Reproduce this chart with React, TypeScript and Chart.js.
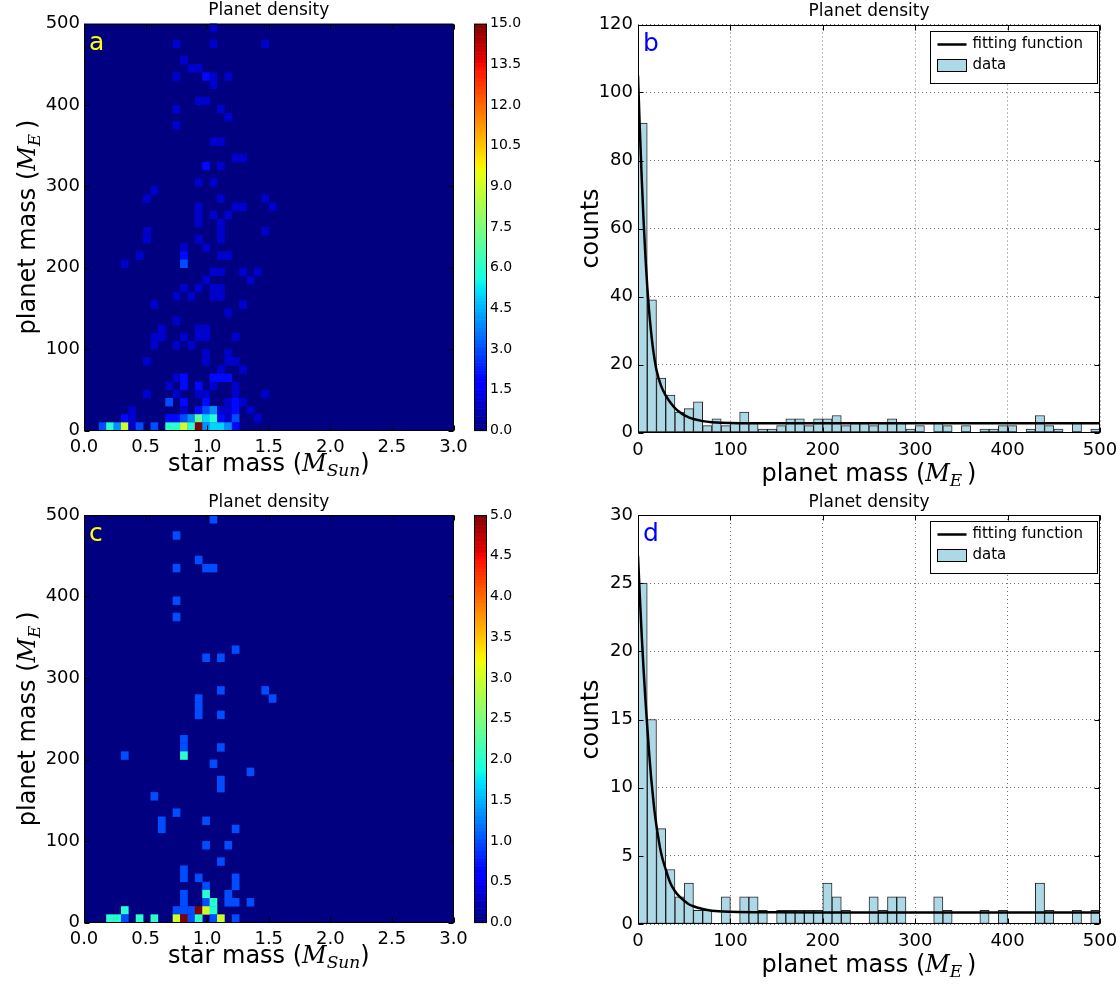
import React, { useEffect, useRef } from "react";
import { Chart, registerables } from "chart.js";

Chart.register(...registerables);

const SANS = '"DejaVu Sans", "Liberation Sans", Arial, sans-serif';
const SERIF = '"DejaVu Serif", "Liberation Serif", serif';

// ---------------- data ----------------
// histogram bins of planet mass (M_E), bin centres
const planetMassBinCenters = [
  5, 15, 25, 35, 45, 55, 65, 75, 85, 95,
  105, 115, 125, 135, 145, 155, 165, 175, 185, 195,
  205, 215, 225, 235, 245, 255, 265, 275, 285, 295,
  305, 315, 325, 335, 345, 355, 365, 375, 385, 395,
  405, 415, 425, 435, 445, 455, 465, 475, 485, 495,
];
// panel b counts
const countsAllStars = [
  91, 39, 16, 11, 6, 7, 9, 2, 4, 2,
  3, 6, 3, 1, 1, 2, 4, 4, 2, 4,
  4, 5, 2, 3, 3, 2, 3, 4, 3, 1,
  2, 0, 3, 2, 0, 2, 0, 1, 1, 2,
  2, 0, 1, 5, 2, 1, 0, 3, 0, 1,
];
// panel d counts
const countsSubset = [
  25, 15, 7, 4, 2, 3, 1, 1, 0, 2,
  0, 2, 2, 1, 0, 1, 1, 1, 1, 1,
  3, 2, 1, 0, 0, 2, 1, 2, 2, 0,
  0, 0, 2, 1, 0, 0, 0, 1, 0, 1,
  0, 0, 0, 3, 1, 0, 0, 1, 0, 1,
];
// fitted curves
const fitMass = [0, 2, 4, 6, 8, 10, 12, 14, 16, 18, 20, 25, 30, 35, 40, 45, 50, 55, 60, 70, 80, 100, 150, 200, 300, 400, 500];
const fitAllStars = [105, 89, 75, 62.5, 52, 43, 35.8, 30, 25.2, 21.4, 18.4, 13.7, 10.9, 8.8, 7.2, 6.0, 5.1, 4.45, 3.95, 3.35, 3.05, 2.8, 2.7, 2.7, 2.7, 2.7, 2.7];
const fitSubset = [27, 24, 21.2, 18.7, 16.5, 14.5, 12.6, 10.9, 9.5, 8.2, 7.2, 5.2, 4.0, 3.0, 2.4, 2.0, 1.7, 1.45, 1.3, 1.1, 0.98, 0.9, 0.86, 0.85, 0.85, 0.85, 0.85];

// 2-D histogram: bin sizes and non-empty cells [star-mass bin, planet-mass bin, count]
const STAR_BIN = 0.06;
const PLANET_BIN = 10;
const cellsAllStars: number[][] = [
  [17, 49, 1],
  [12, 47, 1], [17, 47, 1], [24, 47, 1],
  [13, 45, 1],
  [14, 44, 1], [15, 44, 1],
  [12, 43, 1], [16, 43, 2], [17, 43, 1], [19, 43, 1],
  [17, 42, 1],
  [15, 40, 1], [16, 40, 1],
  [12, 39, 1], [18, 39, 1],
  [19, 38, 1],
  [12, 37, 1],
  [17, 35, 1], [18, 35, 1],
  [20, 33, 1], [21, 33, 1],
  [16, 32, 2], [18, 32, 1],
  [15, 30, 1], [17, 30, 1],
  [9, 29, 1],
  [8, 28, 1], [18, 28, 1], [24, 28, 1],
  [15, 27, 1], [20, 27, 1], [21, 27, 1], [25, 27, 1],
  [15, 26, 1], [17, 26, 1], [19, 26, 1],
  [15, 25, 1], [18, 25, 1],
  [8, 24, 1], [18, 24, 1], [24, 24, 1],
  [8, 23, 1], [15, 23, 1], [18, 23, 1],
  [13, 22, 1], [16, 22, 1],
  [7, 21, 1], [13, 21, 2], [18, 21, 1], [19, 21, 1],
  [5, 20, 1], [13, 20, 3],
  [17, 19, 1], [18, 19, 1], [21, 19, 1], [23, 19, 1],
  [16, 18, 1], [22, 18, 1],
  [13, 17, 1], [15, 17, 1], [17, 17, 1], [18, 17, 1],
  [12, 16, 1], [14, 16, 1], [17, 16, 1], [18, 16, 1],
  [9, 15, 1], [21, 15, 1],
  [19, 14, 1],
  [12, 13, 1],
  [10, 12, 1], [15, 12, 1], [16, 12, 1],
  [9, 11, 1], [10, 11, 1], [13, 11, 1], [15, 11, 1], [16, 11, 1], [20, 11, 1],
  [9, 10, 1], [12, 10, 1], [14, 10, 1],
  [16, 9, 1], [19, 9, 1],
  [8, 8, 1], [16, 8, 1], [19, 8, 1], [20, 8, 1],
  [18, 7, 1], [21, 7, 1],
  [12, 6, 1], [13, 6, 2], [17, 6, 2], [18, 6, 2], [19, 6, 2],
  [11, 5, 1], [13, 5, 2], [15, 5, 2], [17, 5, 1], [20, 5, 1],
  [8, 4, 1], [12, 4, 1], [15, 4, 1], [16, 4, 1], [20, 4, 1], [24, 4, 1],
  [11, 3, 3], [13, 3, 2], [16, 3, 2], [19, 3, 1], [20, 3, 2], [21, 3, 1],
  [6, 2, 1], [13, 2, 1], [15, 2, 2], [16, 2, 3], [17, 2, 4], [18, 2, 1], [19, 2, 1], [20, 2, 2], [22, 2, 1],
  [5, 1, 2], [6, 1, 1], [11, 1, 2], [12, 1, 2], [13, 1, 3], [14, 1, 4], [15, 1, 7], [16, 1, 5], [17, 1, 6], [18, 1, 2], [19, 1, 1], [20, 1, 3], [23, 1, 1],
  [2, 0, 3], [3, 0, 6], [4, 0, 4], [5, 0, 9], [6, 0, 1], [7, 0, 3], [9, 0, 3], [11, 0, 6], [12, 0, 6], [13, 0, 9], [14, 0, 6], [15, 0, 15], [16, 0, 4], [17, 0, 5], [18, 0, 5], [19, 0, 4], [20, 0, 2],
];
const cellsSubset: number[][] = [
  [17, 49, 1], [12, 47, 1], [15, 44, 1],
  [12, 43, 1], [16, 43, 1], [17, 43, 1],
  [12, 39, 1], [12, 37, 1], [20, 33, 1],
  [16, 32, 1], [18, 32, 1],
  [18, 28, 1], [24, 28, 1],
  [15, 27, 1], [25, 27, 1],
  [15, 26, 1],
  [15, 25, 1], [18, 25, 1],
  [13, 22, 1],
  [13, 21, 1], [18, 21, 1],
  [5, 20, 1], [13, 20, 2],
  [17, 19, 1], [22, 18, 1], [18, 17, 1], [18, 16, 1], [9, 15, 1], [12, 13, 1],
  [10, 12, 1], [16, 12, 1],
  [10, 11, 1], [20, 11, 1],
  [16, 9, 1], [19, 9, 1],
  [18, 7, 1], [13, 6, 1],
  [13, 5, 1], [15, 5, 1], [20, 5, 1],
  [16, 4, 1], [20, 4, 1],
  [13, 3, 1], [16, 3, 2], [19, 3, 1],
  [13, 2, 1], [16, 2, 1], [17, 2, 2], [19, 2, 1], [20, 2, 1], [22, 2, 1],
  [5, 1, 2], [12, 1, 1], [13, 1, 1], [14, 1, 1], [15, 1, 5], [16, 1, 3], [17, 1, 2],
  [3, 0, 2], [4, 0, 2], [5, 0, 1], [7, 0, 2], [9, 0, 2], [12, 0, 3], [13, 0, 5], [14, 0, 1], [15, 0, 2], [17, 0, 1], [18, 0, 3], [20, 0, 1],
];

// ---------------- colour map (matplotlib "jet") ----------------
const JET_R = [[0, 0], [0.35, 0], [0.66, 1], [0.89, 1], [1, 0.5]];
const JET_G = [[0, 0], [0.125, 0], [0.375, 1], [0.64, 1], [0.91, 0], [1, 0]];
const JET_B = [[0, 0.5], [0.11, 1], [0.34, 1], [0.65, 0], [1, 0]];
function seg(pts: number[][], t: number) {
  for (let i = 1; i < pts.length; i++) {
    if (t <= pts[i][0]) {
      const [x0, y0] = pts[i - 1];
      const [x1, y1] = pts[i];
      return y0 + ((y1 - y0) * (t - x0)) / (x1 - x0);
    }
  }
  return pts[pts.length - 1][1];
}
function jet(t: number) {
  const v = Math.max(0, Math.min(1, t));
  return `rgb(${Math.round(255 * seg(JET_R, v))},${Math.round(255 * seg(JET_G, v))},${Math.round(255 * seg(JET_B, v))})`;
}

// ---------------- text helpers ----------------
type Seg = { t: string; f: string; dy?: number };
const LBL = 24;
const planetMassLabel: Seg[] = [
  { t: "planet mass (", f: `${LBL}px ${SANS}` },
  { t: "M", f: `italic ${LBL}px ${SERIF}` },
  { t: "E", f: `italic 17px ${SERIF}`, dy: 5 },
  { t: "\u2009)", f: `${LBL}px ${SANS}` },
];
const starMassLabel: Seg[] = [
  { t: "star mass (", f: `${LBL}px ${SANS}` },
  { t: "M", f: `italic ${LBL}px ${SERIF}` },
  { t: "Sun", f: `italic 17px ${SERIF}`, dy: 5 },
  { t: ")", f: `${LBL}px ${SANS}` },
];
const countsLabel: Seg[] = [{ t: "counts", f: `${LBL}px ${SANS}` }];

function drawSegs(ctx: CanvasRenderingContext2D, segs: Seg[], cx: number, cy: number, vertical: boolean) {
  ctx.save();
  ctx.translate(cx, cy);
  if (vertical) ctx.rotate(-Math.PI / 2);
  ctx.textBaseline = "alphabetic";
  ctx.textAlign = "left";
  ctx.fillStyle = "#000";
  let total = 0;
  const widths = segs.map((s) => {
    ctx.font = s.f;
    const w = ctx.measureText(s.t).width;
    total += w;
    return w;
  });
  let x = -total / 2;
  segs.forEach((s, i) => {
    ctx.font = s.f;
    ctx.fillText(s.t, x, 8 + (s.dy || 0));
    x += widths[i];
  });
  ctx.restore();
}

type Decor = {
  title?: string;
  xLabel?: Seg[];
  xLabelDy?: number;
  yLabel?: Seg[];
  yLabelDx?: number;
  letter?: string;
  letterColor?: string;
  legend?: boolean;
  sides?: boolean;
  tickLen?: number;
};

function decorPlugin(d: Decor) {
  return {
    id: "decor",
    afterDraw(chart: any) {
      const { ctx, chartArea: ca, scales } = chart;
      const L = Math.round(ca.left) + 0.5;
      const R = Math.round(ca.right) - 0.5;
      const T = Math.round(ca.top) + 0.5;
      const B = Math.round(ca.bottom) - 0.5;
      ctx.save();
      if (d.sides) {
        const tl = d.tickLen || 5;
        ctx.strokeStyle = "#000";
        ctx.lineWidth = 1;
        ctx.beginPath();
        const sx = scales.x;
        if (sx && sx.options.display !== false) {
          sx.ticks.forEach((t: any) => {
            const p = Math.round(sx.getPixelForValue(t.value)) + 0.5;
            ctx.moveTo(p, B); ctx.lineTo(p, B - tl);
            ctx.moveTo(p, T); ctx.lineTo(p, T + tl);
          });
        }
        const sy = scales.y;
        if (sy) {
          sy.ticks.forEach((t: any) => {
            const p = Math.round(sy.getPixelForValue(t.value)) + 0.5;
            ctx.moveTo(L, p); ctx.lineTo(L + tl, p);
            ctx.moveTo(R, p); ctx.lineTo(R - tl, p);
          });
        }
        ctx.stroke();
      }
      ctx.strokeStyle = "#000";
      ctx.lineWidth = 1;
      ctx.strokeRect(L, T, R - L, B - T);
      if (d.title) {
        ctx.fillStyle = "#000";
        ctx.font = `17px ${SANS}`;
        ctx.textAlign = "center";
        ctx.textBaseline = "middle";
        ctx.fillText(d.title, (ca.left + ca.right) / 2, ca.top - 12.5);
      }
      if (d.xLabel) drawSegs(ctx, d.xLabel, (ca.left + ca.right) / 2, ca.bottom + (d.xLabelDy || 32), false);
      if (d.yLabel) drawSegs(ctx, d.yLabel, ca.left - (d.yLabelDx || 57), (ca.top + ca.bottom) / 2, true);
      if (d.letter) {
        ctx.fillStyle = d.letterColor || "#000";
        ctx.font = `25px ${SANS}`;
        ctx.textAlign = "left";
        ctx.textBaseline = "alphabetic";
        ctx.fillText(d.letter, ca.left + 5, ca.top + 26);
      }
      if (d.legend) {
        const lx = Math.round(ca.right - 170) + 0.5;
        const ly = Math.round(ca.top + 6) + 0.5;
        const lw = 167;
        const lh = 52;
        ctx.fillStyle = "#fff";
        ctx.fillRect(lx, ly, lw, lh);
        ctx.strokeStyle = "#000";
        ctx.lineWidth = 1;
        ctx.strokeRect(lx, ly, lw, lh);
        ctx.lineWidth = 2.5;
        ctx.beginPath();
        ctx.moveTo(lx + 7, ly + 13);
        ctx.lineTo(lx + 36, ly + 13);
        ctx.stroke();
        ctx.fillStyle = "#add8e6";
        ctx.fillRect(lx + 7, ly + 28, 29, 12);
        ctx.lineWidth = 1;
        ctx.strokeRect(lx + 7, ly + 28, 29, 12);
        ctx.fillStyle = "#000";
        ctx.font = `15px ${SANS}`;
        ctx.textAlign = "left";
        ctx.textBaseline = "middle";
        const labels = chart.data.datasets.map((ds: any) => ds.label);
        ctx.fillText(labels[0], lx + 42, ly + 13);
        ctx.fillText(labels[1], lx + 42, ly + 34);
      }
      ctx.restore();
    },
  };
}

const heatCellsPlugin = (vmax: number) => ({
  id: "heatCells",
  beforeDatasetsDraw(chart: any) {
    const { ctx, chartArea: ca, scales } = chart;
    ctx.save();
    ctx.fillStyle = jet(0);
    ctx.fillRect(ca.left, ca.top, ca.width, ca.height);
    const pts = chart.data.datasets[0].data as any[];
    pts.forEach((p) => {
      const x0 = scales.x.getPixelForValue(p.x0);
      const x1 = scales.x.getPixelForValue(p.x1);
      const y0 = scales.y.getPixelForValue(p.y0);
      const y1 = scales.y.getPixelForValue(p.y1);
      ctx.fillStyle = jet(p.v / vmax);
      ctx.fillRect(Math.min(x0, x1), Math.min(y0, y1), Math.abs(x1 - x0) + 0.3, Math.abs(y1 - y0) + 0.3);
    });
    ctx.restore();
  },
});

const colorbarPlugin = (vmax: number) => ({
  id: "colorbar",
  beforeDatasetsDraw(chart: any) {
    const { ctx, chartArea: ca, scales } = chart;
    ctx.save();
    const n = 256;
    for (let i = 0; i < n; i++) {
      const yA = scales.y.getPixelForValue((i / n) * vmax);
      const yB = scales.y.getPixelForValue(((i + 1) / n) * vmax);
      ctx.fillStyle = jet((i + 0.5) / n);
      ctx.fillRect(ca.left, Math.min(yA, yB), ca.width, Math.abs(yA - yB) + 0.6);
    }
    ctx.restore();
  },
});

const tickFont = (size: number) => ({ family: SANS, size });

// fixed axis sizes, and no extra edge padding from the end labels
const fixX = (h: number) => (s: any) => {
  s.height = h;
  s.paddingLeft = 0;
  s.paddingRight = 0;
};
const fixY = (w: number) => (s: any) => {
  s.width = w;
  s.paddingTop = 0;
  s.paddingBottom = 0;
};

function makeHeatmap(canvas: HTMLCanvasElement, cells: number[][], vmax: number, padTop: number, letter: string) {
  const data = cells.map(([c, r, v]) => ({
    x: (c + 0.5) * STAR_BIN,
    y: (r + 0.5) * PLANET_BIN,
    x0: c * STAR_BIN,
    x1: (c + 1) * STAR_BIN,
    y0: r * PLANET_BIN,
    y1: (r + 1) * PLANET_BIN,
    v,
  }));
  return new Chart(canvas, {
    type: "scatter",
    data: { datasets: [{ label: "Planet density", data, pointRadius: 0, pointHoverRadius: 0, showLine: false }] },
    options: {
      responsive: false,
      animation: false,
      events: [],
      layout: { padding: { top: padTop, right: 16.5, left: 0, bottom: 0 } },
      plugins: { legend: { display: false }, tooltip: { enabled: false }, title: { display: false } },
      scales: {
        x: {
          type: "linear",
          min: 0,
          max: 3,
          ticks: { stepSize: 0.5, padding: 6, color: "#000", font: tickFont(18), maxRotation: 0, callback: (v: any) => Number(v).toFixed(1) },
          grid: { display: false, drawTicks: false },
          border: { display: false },
          afterFit: fixX(61.5),
        },
        y: {
          type: "linear",
          min: 0,
          max: 500,
          ticks: { stepSize: 100, padding: 4, color: "#000", font: tickFont(18) },
          grid: { display: false, drawTicks: false },
          border: { display: false },
          afterFit: fixY(84),
        },
      },
    } as any,
    plugins: [
      heatCellsPlugin(vmax),
      decorPlugin({
        title: "Planet density",
        xLabel: starMassLabel,
        xLabelDy: 32,
        yLabel: planetMassLabel,
        yLabelDx: 57,
        letter,
        letterColor: "#ffff00",
        sides: true,
        tickLen: 5,
      }),
    ] as any,
  });
}

function makeColorbar(canvas: HTMLCanvasElement, vmax: number, step: number, padTop: number) {
  return new Chart(canvas, {
    type: "scatter",
    data: { datasets: [{ data: [], pointRadius: 0 }] },
    options: {
      responsive: false,
      animation: false,
      events: [],
      layout: { padding: { top: padTop, right: 0, left: 14, bottom: 61.5 } },
      plugins: { legend: { display: false }, tooltip: { enabled: false } },
      scales: {
        x: { type: "linear", display: false, min: 0, max: 1 },
        y: {
          type: "linear",
          position: "right",
          min: 0,
          max: vmax,
          ticks: { stepSize: step, padding: 3, color: "#000", font: tickFont(14), callback: (v: any) => Number(v).toFixed(1) },
          grid: { display: false, drawTicks: false },
          border: { display: false },
          afterFit: fixY(53),
        },
      },
    } as any,
    plugins: [colorbarPlugin(vmax), decorPlugin({ sides: false })] as any,
  });
}

function makeHist(
  canvas: HTMLCanvasElement,
  counts: number[],
  fit: number[],
  yMax: number,
  yStep: number,
  padTop: number,
  xAxisH: number,
  letter: string
) {
  return new Chart(canvas, {
    type: "bar",
    data: {
      datasets: [
        {
          type: "line",
          label: "fitting function",
          data: fitMass.map((m, i) => ({ x: m, y: fit[i] })),
          borderColor: "#000",
          borderWidth: 2.5,
          pointRadius: 0,
          cubicInterpolationMode: "monotone",
          fill: false,
          order: 0,
        },
        {
          type: "bar",
          label: "data",
          data: planetMassBinCenters.map((m, i) => ({ x: m, y: counts[i] })),
          backgroundColor: "#add8e6",
          borderColor: "rgba(0,0,0,0.85)",
          borderWidth: 1,
          borderSkipped: false,
          barPercentage: 1,
          categoryPercentage: 1,
          order: 1,
        },
      ],
    },
    options: {
      responsive: false,
      animation: false,
      events: [],
      layout: { padding: { top: padTop, right: 20, left: 0, bottom: 0 } },
      plugins: { legend: { display: false }, tooltip: { enabled: false }, title: { display: false } },
      scales: {
        x: {
          type: "linear",
          min: 0,
          max: 500,
          offset: false,
          ticks: { stepSize: 100, padding: 7, color: "#000", font: tickFont(18), maxRotation: 0 },
          grid: { offset: false, color: "#777", lineWidth: 1, drawTicks: false },
          border: { display: false, dash: [1, 3] },
          afterFit: fixX(xAxisH),
        },
        y: {
          type: "linear",
          min: 0,
          max: yMax,
          ticks: { stepSize: yStep, padding: 5, color: "#000", font: tickFont(18) },
          grid: { color: "#777", lineWidth: 1, drawTicks: false },
          border: { display: false, dash: [1, 3] },
          afterFit: fixY(78),
        },
      },
    } as any,
    plugins: [
      decorPlugin({
        title: "Planet density",
        xLabel: planetMassLabel,
        xLabelDy: 40,
        yLabel: countsLabel,
        yLabelDx: 48,
        letter,
        letterColor: "#0000ff",
        legend: true,
        sides: true,
        tickLen: 5,
      }),
    ] as any,
  });
}

export default function App() {
  const aRef = useRef<HTMLCanvasElement>(null);
  const aCbRef = useRef<HTMLCanvasElement>(null);
  const bRef = useRef<HTMLCanvasElement>(null);
  const cRef = useRef<HTMLCanvasElement>(null);
  const cCbRef = useRef<HTMLCanvasElement>(null);
  const dRef = useRef<HTMLCanvasElement>(null);

  useEffect(() => {
    Chart.defaults.font.family = SANS;
    Chart.defaults.color = "#000";
    const charts = [
      makeHeatmap(aRef.current!, cellsAllStars, 15, 23.5, "a"),
      makeColorbar(aCbRef.current!, 15, 1.5, 23.5),
      makeHist(bRef.current!, countsAllStars, fitAllStars, 120, 20, 24.5, 59.5, "b"),
      makeHeatmap(cRef.current!, cellsSubset, 5, 23, "c"),
      makeColorbar(cCbRef.current!, 5, 0.5, 23),
      makeHist(dRef.current!, countsSubset, fitSubset, 30, 5, 23, 60, "d"),
    ];
    return () => charts.forEach((c) => c.destroy());
  }, []);

  const pos = (left: number, top: number): React.CSSProperties => ({ position: "absolute", left, top });

  return (
    <div style={{ position: "absolute", left: 0, top: 0, width: 1120, height: 984, background: "#fff" }}>
      <canvas ref={aRef} width={470} height={492} style={pos(0, 0)} />
      <canvas ref={aCbRef} width={80} height={492} style={pos(460, 0)} />
      <canvas ref={bRef} width={560} height={492} style={pos(560, 0)} />
      <canvas ref={cRef} width={470} height={492} style={pos(0, 492)} />
      <canvas ref={cCbRef} width={80} height={492} style={pos(460, 492)} />
      <canvas ref={dRef} width={560} height={492} style={pos(560, 492)} />
    </div>
  );
}
